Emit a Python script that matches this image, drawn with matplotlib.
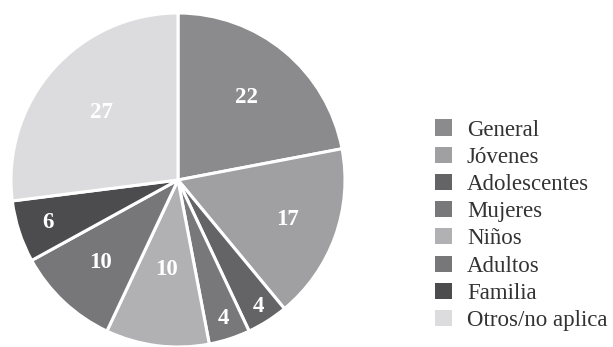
import matplotlib
matplotlib.use("Agg")
import numpy as np
import matplotlib.pyplot as plt
from matplotlib.patches import Patch

categories = ["General", "Jóvenes", "Adolescentes", "Mujeres", "Niños",
              "Adultos", "Familia", "Otros/no aplica"]
values = [22, 17, 4, 4, 10, 10, 6, 27]
colors = ["#8b8b8e", "#a0a0a3", "#646467", "#78787b", "#b1b1b4",
          "#77777a", "#4c4c4e", "#dcdcde"]

plt.rcParams["font.family"] = ["Liberation Serif", "DejaVu Serif"]

W, H = 613, 347
fig = plt.figure(figsize=(W / 100, H / 100), dpi=100)
cx, cy, r = 178, 180, 167
ax = fig.add_axes([(cx - r) / W, 1 - (cy + r) / H, 2 * r / W, 2 * r / H])

wedges, texts = ax.pie(
    values, colors=colors, startangle=90, counterclock=False,
    labels=[str(v) for v in values], labeldistance=0.65,
    wedgeprops=dict(edgecolor="white", linewidth=2.2),
    textprops=dict(color="white", fontsize=16.5, fontweight="bold",
                   ha="center", va="center"),
)

# push each value label along its wedge's bisector
label_radius = [0.645, 0.70, 0.90, 0.875, 0.54, 0.68, 0.82, 0.61]
for w, t, rad in zip(wedges, texts, label_radius):
    ang = np.deg2rad((w.theta1 + w.theta2) / 2)
    t.set_position((rad * np.cos(ang), rad * np.sin(ang)))

ax.set_aspect("equal")
ax.set_xlim(-1, 1)
ax.set_ylim(-1, 1)
ax.axis("off")

handles = [Patch(facecolor=c, edgecolor="none") for c in colors]
fig.legend(handles, categories, loc="upper left",
           bbox_to_anchor=(435 / W, 1 - 119.5 / H), frameon=False,
           fontsize=16.5, handlelength=0.74, handleheight=0.7,
           handletextpad=0.65, labelspacing=0.27, labelcolor="#333333",
           borderpad=0, borderaxespad=0)

fig.savefig("out.png", dpi=100)
